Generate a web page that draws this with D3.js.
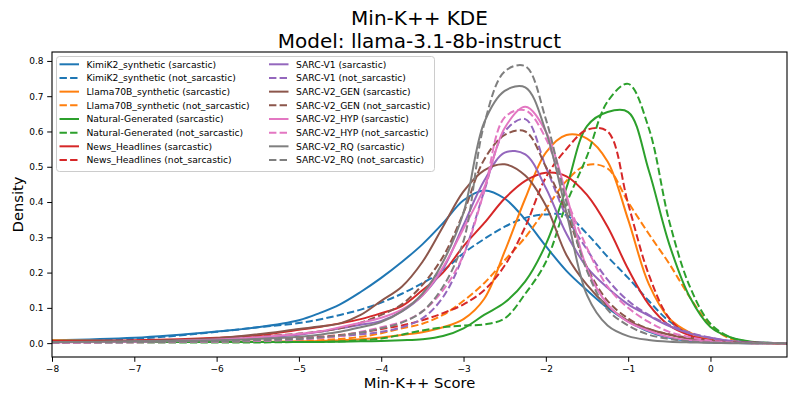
<!DOCTYPE html>
<html>
<head>
<meta charset="utf-8">
<script src="https://cdn.jsdelivr.net/npm/d3@7"></script>
<style>
  body { margin: 0; background: #fff; }
  svg { display: block; }
  text { font-family: "DejaVu Sans", sans-serif; fill: #000; }
</style>
</head>
<body>
<svg width="788" height="394"></svg>
<script>
// shared score grid (x) that every density curve was read at
var scores = [-8, -7, -6, -5.5, -5, -4.75, -4.5, -4.25, -4, -3.75, -3.5, -3.25, -3, -2.75,
  -2.5, -2.25, -2, -1.75, -1.5, -1.25, -1, -0.75, -0.5, -0.25, 0, 0.25, 0.5, 0.93]

var datasets = ['KimiK2_synthetic', 'Llama70B_synthetic', 'Natural-Generated', 'News_Headlines',
  'SARC-V1', 'SARC-V2_GEN', 'SARC-V2_HYP', 'SARC-V2_RQ']
var classes = ['sarcastic', 'not_sarcastic']

// densities, one array per dataset / class
var kimiSarc = [0.008, 0.015, 0.033, 0.045, 0.065, 0.085, 0.11, 0.145, 0.185, 0.23, 0.28, 0.34, 0.405, 0.433,
  0.41, 0.35, 0.275, 0.205, 0.15, 0.1, 0.062, 0.033, 0.015, 0.006, 0.002, 0.001, 0, 0]
var kimiNot = [0.006, 0.012, 0.032, 0.045, 0.057, 0.067, 0.08, 0.095, 0.115, 0.14, 0.17, 0.205, 0.255, 0.295,
  0.33, 0.355, 0.365, 0.362, 0.31, 0.245, 0.185, 0.12, 0.062, 0.028, 0.012, 0.004, 0.001, 0]
var llamaSarc = [0.008, 0.006, 0.004, 0.004, 0.005, 0.006, 0.008, 0.011, 0.016, 0.023, 0.031, 0.045, 0.068, 0.125,
  0.26, 0.41, 0.54, 0.59, 0.58, 0.515, 0.35, 0.168, 0.07, 0.03, 0.01, 0.003, 0.001, 0]
var llamaNot = [0.006, 0.004, 0.003, 0.004, 0.006, 0.008, 0.012, 0.018, 0.028, 0.042, 0.055, 0.08, 0.12, 0.17,
  0.235, 0.3, 0.38, 0.46, 0.505, 0.495, 0.4, 0.31, 0.225, 0.13, 0.05, 0.012, 0.002, 0]
var naturalSarc = [0.003, 0.003, 0.003, 0.003, 0.003, 0.003, 0.004, 0.005, 0.006, 0.008, 0.011, 0.02, 0.042, 0.08,
  0.115, 0.175, 0.28, 0.44, 0.615, 0.655, 0.655, 0.49, 0.28, 0.13, 0.046, 0.016, 0.004, 0]
var naturalNot = [0.002, 0.002, 0.002, 0.002, 0.003, 0.003, 0.005, 0.008, 0.013, 0.024, 0.036, 0.045, 0.05, 0.053,
  0.07, 0.14, 0.23, 0.395, 0.53, 0.685, 0.735, 0.61, 0.345, 0.16, 0.055, 0.016, 0.003, 0]
var newsSarc = [0.006, 0.008, 0.015, 0.022, 0.038, 0.046, 0.056, 0.068, 0.085, 0.105, 0.15, 0.2, 0.275, 0.34,
  0.41, 0.46, 0.483, 0.473, 0.42, 0.33, 0.21, 0.11, 0.05, 0.022, 0.008, 0.003, 0.001, 0]
var newsNot = [0.004, 0.005, 0.007, 0.01, 0.014, 0.018, 0.023, 0.03, 0.04, 0.05, 0.065, 0.085, 0.11, 0.15,
  0.22, 0.33, 0.47, 0.55, 0.605, 0.6, 0.395, 0.195, 0.07, 0.022, 0.008, 0.002, 0, 0]
var v1Sarc = [0.003, 0.004, 0.01, 0.015, 0.024, 0.032, 0.042, 0.052, 0.063, 0.09, 0.135, 0.21, 0.335, 0.46,
  0.54, 0.535, 0.44, 0.31, 0.215, 0.157, 0.11, 0.078, 0.048, 0.027, 0.015, 0.006, 0.002, 0]
var v1Not = [0.002, 0.003, 0.005, 0.008, 0.012, 0.016, 0.02, 0.025, 0.032, 0.045, 0.07, 0.13, 0.25, 0.43,
  0.6, 0.635, 0.5, 0.36, 0.265, 0.18, 0.12, 0.08, 0.052, 0.03, 0.015, 0.006, 0.002, 0]
var genSarc = [0.003, 0.006, 0.014, 0.025, 0.04, 0.047, 0.056, 0.08, 0.12, 0.16, 0.23, 0.33, 0.43, 0.49,
  0.507, 0.475, 0.39, 0.25, 0.165, 0.105, 0.063, 0.04, 0.024, 0.012, 0.005, 0.002, 0.001, 0]
var genNot = [0.002, 0.004, 0.01, 0.018, 0.027, 0.033, 0.042, 0.058, 0.08, 0.11, 0.165, 0.245, 0.37, 0.52,
  0.59, 0.6, 0.5, 0.37, 0.215, 0.12, 0.07, 0.04, 0.025, 0.015, 0.007, 0.003, 0.001, 0]
var hypSarc = [0.002, 0.004, 0.01, 0.017, 0.026, 0.033, 0.045, 0.058, 0.072, 0.095, 0.135, 0.215, 0.325, 0.44,
  0.61, 0.67, 0.6, 0.42, 0.212, 0.11, 0.06, 0.035, 0.017, 0.008, 0.004, 0.001, 0, 0]
var hypNot = [0.001, 0.002, 0.004, 0.006, 0.01, 0.014, 0.02, 0.032, 0.045, 0.06, 0.09, 0.15, 0.25, 0.43,
  0.64, 0.66, 0.58, 0.41, 0.27, 0.16, 0.1, 0.06, 0.032, 0.017, 0.007, 0.002, 0, 0]
var rqSarc = [0.003, 0.005, 0.008, 0.012, 0.018, 0.024, 0.032, 0.045, 0.06, 0.09, 0.14, 0.23, 0.37, 0.625,
  0.715, 0.725, 0.6, 0.37, 0.136, 0.05, 0.02, 0.009, 0.004, 0.002, 0.001, 0, 0, 0]
var rqNot = [0.002, 0.003, 0.005, 0.008, 0.012, 0.016, 0.022, 0.03, 0.042, 0.058, 0.09, 0.16, 0.29, 0.62,
  0.77, 0.785, 0.635, 0.4, 0.205, 0.095, 0.05, 0.024, 0.012, 0.005, 0.002, 0.001, 0, 0]

var yTicks = [0, 0.1, 0.2, 0.3, 0.4, 0.5, 0.6, 0.7, 0.8]
var xTicks = [-8, -7, -6, -5, -4, -3, -2, -1, 0]

var values = [[kimiSarc, kimiNot], [llamaSarc, llamaNot], [naturalSarc, naturalNot], [newsSarc, newsNot],
  [v1Sarc, v1Not], [genSarc, genNot], [hypSarc, hypNot], [rqSarc, rqNot]]

var cols = d3.scaleOrdinal(d3.schemeCategory10).domain(datasets)

// flat list in plotting order
var series = []
datasets.forEach(function (name, i) {
  classes.forEach(function (c, j) {
    series.push({
      name: name,
      label: name + ' (' + c + ')',
      dashed: j === 1,
      points: scores.map(function (x, k) { return [x, values[i][j][k]] })
    })
  })
})

var plotL = 52, plotR = 787, plotT = 52, plotB = 357

var x = d3.scaleLinear().domain([-8, 0.93]).range([plotL, plotR])
var y = d3.scaleLinear().domain([-0.0393, 0.8253]).range([plotB, plotT])

var svg = d3.select('svg')

svg.append('defs').append('clipPath').attr('id', 'clip')
  .append('rect')
  .attr('x', plotL).attr('y', plotT)
  .attr('width', plotR - plotL).attr('height', plotB - plotT)

var line = d3.line()
  .x(function (d) { return x(d[0]) })
  .y(function (d) { return y(d[1]) })
  .curve(d3.curveCatmullRom.alpha(0.5))

svg.append('g')
  .attr('clip-path', 'url(#clip)')
  .selectAll('path')
  .data(series)
  .enter()
  .append('path')
  .attr('d', function (d) { return line(d.points) })
  .attr('fill', 'none')
  .attr('stroke', function (d) { return cols(d.name) })
  .attr('stroke-width', 2)
  .attr('stroke-dasharray', function (d) { return d.dashed ? '7.4,3.2' : null })

// axes
svg.append('g')
  .attr('transform', 'translate(0,' + plotB + ')')
  .call(d3.axisBottom(x).tickValues(xTicks).tickFormat(d3.format('d'))
    .tickSize(4.8).tickPadding(3.6).tickSizeOuter(0))
svg.append('g')
  .attr('transform', 'translate(' + plotL + ',0)')
  .call(d3.axisLeft(y).tickValues(yTicks).tickFormat(d3.format('.1f'))
    .tickSize(4.8).tickPadding(3.6).tickSizeOuter(0))

svg.selectAll('.tick text').attr('font-size', 9).attr('font-family', '"DejaVu Sans", sans-serif')
svg.selectAll('.tick line').attr('stroke', '#000').attr('stroke-width', 1)
svg.selectAll('.domain').remove()

svg.append('rect')
  .attr('x', plotL).attr('y', plotT)
  .attr('width', plotR - plotL).attr('height', plotB - plotT)
  .attr('fill', 'none').attr('stroke', '#000').attr('stroke-width', 1.1)

// titles
svg.append('text').attr('x', (plotL + plotR) / 2).attr('y', 25)
  .attr('text-anchor', 'middle').attr('font-size', 20).text('Min-K++ KDE')
svg.append('text').attr('x', (plotL + plotR) / 2).attr('y', 48)
  .attr('text-anchor', 'middle').attr('font-size', 20).text('Model: llama-3.1-8b-instruct')

svg.append('text').attr('x', (plotL + plotR) / 2).attr('y', 388)
  .attr('text-anchor', 'middle').attr('font-size', 14.7).text('Min-K++ Score')
svg.append('text')
  .attr('transform', 'translate(23,' + ((plotT + plotB) / 2) + ') rotate(-90)')
  .attr('text-anchor', 'middle').attr('font-size', 14.7).text('Density')

// legend, two columns filled column by column
var legend = svg.append('g')
legend.append('rect')
  .attr('x', 56.5).attr('y', 56.5).attr('width', 378).attr('height', 115)
  .attr('rx', 3).attr('fill', '#fff').attr('fill-opacity', 0.8)
  .attr('stroke', '#cccccc').attr('stroke-width', 1)

var items = legend.selectAll('g.item')
  .data(series)
  .enter()
  .append('g')
  .attr('class', 'item')
  .attr('transform', function (d, i) {
    var col = Math.floor(i / 8)
    var row = i % 8
    return 'translate(' + (col === 0 ? 59.5 : 269) + ',' + (64.3 + row * 13.67) + ')'
  })

items.append('line')
  .attr('x1', 0).attr('x2', 19.5).attr('y1', 0).attr('y2', 0)
  .attr('stroke', function (d) { return cols(d.name) })
  .attr('stroke-width', 2)
  .attr('stroke-dasharray', function (d) { return d.dashed ? '7.4,3.2' : null })

items.append('text')
  .attr('x', 27).attr('y', 0).attr('dy', '0.35em')
  .attr('font-size', 9.2)
  .text(function (d) { return d.label })
</script>
</body>
</html>
